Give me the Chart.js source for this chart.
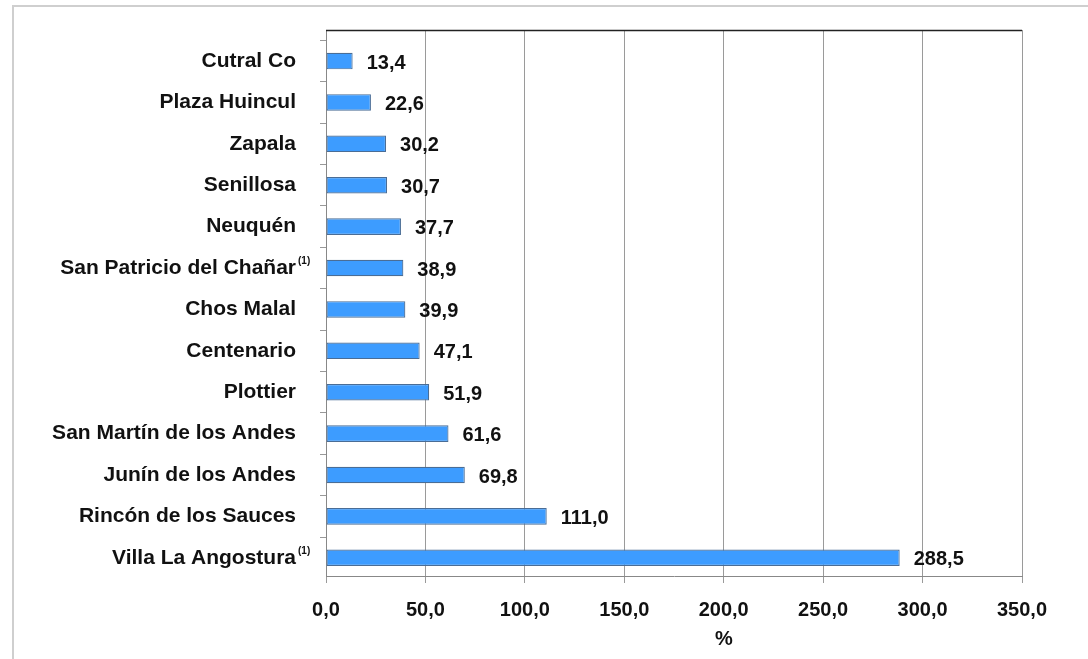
<!DOCTYPE html>
<html>
<head>
<meta charset="utf-8">
<script src="https://cdn.jsdelivr.net/npm/chart.js@4.4.1/dist/chart.umd.min.js"></script>
<style>
  body { margin:0; background:#fff; }
  .marco { position:absolute; left:0; top:0; width:1088px; height:659px; overflow:hidden; }
  .borde { position:absolute; left:12px; top:5px; width:1200px; height:800px; border-left:2px solid #cfcfcf; border-top:2px solid #cfcfcf; }
  canvas { position:absolute; left:0; top:0; }
</style>
</head>
<body>
<div class="marco">
  <div class="borde"></div>
  <canvas id="myChart" width="1088" height="659"></canvas>
</div>
<script>
//localidades de arriba hacia abajo
const localidades = ['Cutral Co','Plaza Huincul','Zapala','Senillosa','Neuquén','San Patricio del Chañar','Chos Malal','Centenario','Plottier','San Martín de los Andes','Junín de los Andes','Rincón de los Sauces','Villa La Angostura']
//llamadas de nota (1) al lado del nombre
const notas = ['','','','','','(1)','','','','','','','(1)']
//variación en %
const valores = [13.4,22.6,30.2,30.7,37.7,38.9,39.9,47.1,51.9,61.6,69.8,111.0,288.5]
//marcas del eje x
const marcas_x = [0,50,100,150,200,250,300,350]
const titulo_x = '%'

const fuente = '"Liberation Sans", Arial, sans-serif'
const coma = (v) => v.toFixed(1).replace('.', ',')

//cada barra va en la posicion de su localidad (0 = arriba)
const puntos = valores.map((v, i) => ({ x: v, y: i }))

//dibuja los nombres de las localidades con la nota en superindice
const nombresPlugin = {
    id: 'nombres',
    afterDraw(chart) {
        const ctx = chart.ctx
        const ejeY = chart.scales.y
        ctx.save()
        ctx.fillStyle = '#111'
        ctx.textBaseline = 'middle'
        localidades.forEach((nombre, i) => {
            const y = ejeY.getPixelForValue(i)
            ctx.font = 'bold 21px ' + fuente
            ctx.textAlign = 'right'
            ctx.fillText(nombre, 296, y)
            if (notas[i]) {
                ctx.font = 'bold 10px ' + fuente
                ctx.textAlign = 'left'
                ctx.fillText(notas[i], 298, y - 7)
            }
        })
        ctx.restore()
    }
}

//valores al final de cada barra, linea superior y titulo del eje
const etiquetasPlugin = {
    id: 'etiquetas',
    afterDatasetsDraw(chart) {
        const ctx = chart.ctx
        const area = chart.chartArea
        ctx.save()
        ctx.strokeStyle = '#222'
        ctx.lineWidth = 1.5
        ctx.beginPath()
        ctx.moveTo(area.left, area.top + 0.5)
        ctx.lineTo(area.right, area.top + 0.5)
        ctx.stroke()

        ctx.fillStyle = '#111'
        ctx.font = 'bold 20px ' + fuente
        ctx.textAlign = 'left'
        ctx.textBaseline = 'middle'
        chart.getDatasetMeta(0).data.forEach((barra, i) => {
            ctx.fillText(coma(valores[i]), barra.x + 14, barra.y + 2)
        })

        ctx.textAlign = 'center'
        ctx.fillText(titulo_x, (area.left + area.right) / 2 + 50, 639)
        ctx.restore()
    }
}

const config = {
    type: 'bar',
    data: {
        datasets: [{
            data: puntos,
            backgroundColor: '#3d9cff',
            borderColor: '#4a6d96',
            borderWidth: 1.2,
            borderSkipped: false,
            barPercentage: 0.4,
            categoryPercentage: 1
        }]
    },
    options: {
        indexAxis: 'y',
        responsive: false,
        animation: false,
        devicePixelRatio: 1,
        layout: { padding: { top: 30, right: 66, left: 0, bottom: 0 } },
        plugins: { legend: { display: false }, tooltip: { enabled: false } },
        scales: {
            x: {
                type: 'linear',
                min: 0,
                max: 350,
                afterBuildTicks: (eje) => { eje.ticks = marcas_x.map(v => ({ value: v })) },
                afterFit: (eje) => { eje.height = 83 },
                grid: { color: '#9a9a9a', lineWidth: 1, tickLength: 7 },
                border: { color: '#888' },
                ticks: {
                    color: '#111',
                    padding: 15,
                    font: { family: fuente, size: 20, weight: 'bold' },
                    callback: (v) => coma(v)
                }
            },
            y: {
                type: 'linear',
                reverse: true,
                offset: false,
                min: -0.75,
                max: 12.44,
                //marcas entre localidades
                afterBuildTicks: (eje) => { eje.ticks = localidades.map((n, i) => ({ value: i - 0.5 })) },
                afterFit: (eje) => { eje.width = 326 },
                grid: { drawOnChartArea: false, offset: false, color: '#999', tickLength: 6 },
                border: { color: '#888' },
                ticks: { display: false }
            }
        }
    },
    plugins: [nombresPlugin, etiquetasPlugin]
}

let myChart = document.getElementById('myChart')
myChart = new Chart(myChart, config)
</script>
</body>
</html>
